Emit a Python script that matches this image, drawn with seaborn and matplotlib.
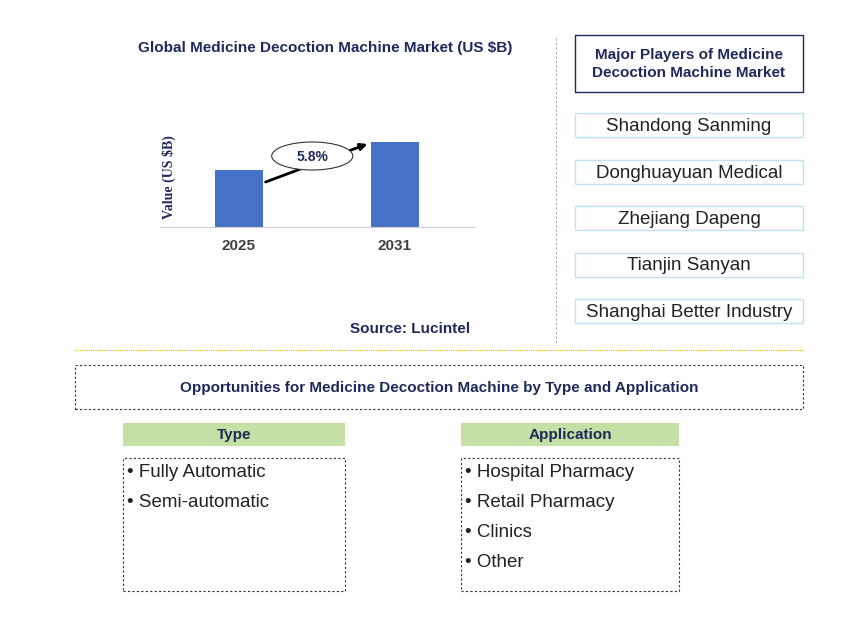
import matplotlib
matplotlib.use("Agg")
import matplotlib.pyplot as plt
import seaborn as sns
import pandas as pd
from matplotlib.patches import Rectangle, Ellipse

years = ["2025", "2031"]
values = [0.57, 0.85]
cagr = "5.8%"
players = ["Shandong Sanming", "Donghuayuan Medical", "Zhejiang Dapeng",
           "Tianjin Sanyan", "Shanghai Better Industry"]
types = ["Fully Automatic", "Semi-automatic"]
applications = ["Hospital Pharmacy", "Retail Pharmacy", "Clinics", "Other"]

plt.rcParams["font.family"] = "Liberation Sans"
W, H = 868, 632
navy = "#1f2a5c"
fig = plt.figure(figsize=(W / 100, H / 100), dpi=100)

def fx(x):
    return x / W

def fy(y):
    return 1 - y / H

def box(x0, y0, x1, y1, **kw):
    fig.add_artist(Rectangle((fx(x0), fy(y1)), fx(x1) - fx(x0), fy(y0) - fy(y1),
                             transform=fig.transFigure, **kw))

# bar chart
ax = fig.add_axes([fx(160), fy(227), fx(475) - fx(160), fy(100) - fy(227)])
df = pd.DataFrame({"year": years, "value": values})
sns.barplot(data=df, x="year", y="value", color="#4472c4", width=0.31,
            saturation=1, ax=ax)
ax.set_xlim(-0.506, 1.513)
ax.set_ylim(0, 1.27)
ax.set_yticks([])
ax.set_xlabel("")
ax.set_ylabel("Value (US $B)", fontsize=10, fontweight="bold", color=navy,
              family="Liberation Serif")
ax.yaxis.set_label_coords(0.05, 0.39)
for s in ["top", "right", "left"]:
    ax.spines[s].set_visible(False)
ax.spines["bottom"].set_color("#d0d0d0")
ax.tick_params(axis="x", length=0, pad=9)
for t in ax.get_xticklabels():
    t.set_fontweight("bold")
    t.set_color("#404040")
    t.set_fontsize(11)
ax.annotate("", xy=(0.84, 0.84), xytext=(0.154, 0.44),
            arrowprops=dict(arrowstyle="-|>", color="black", lw=2), zorder=4)
ax.add_patch(Ellipse((0.47, 0.71), 0.52, 0.28, facecolor="white",
                     edgecolor="#333333", lw=0.8, zorder=5))
ax.text(0.47, 0.70, cagr, ha="center", va="center", fontsize=10,
        fontweight="bold", color=navy, zorder=6)

fig.text(fx(325), fy(48), "Global Medicine Decoction Machine Market (US $B)",
         ha="center", va="center", fontsize=11, fontweight="bold", color=navy)
fig.text(fx(410), fy(329), "Source: Lucintel", ha="center", va="center",
         fontsize=11, fontweight="bold", color=navy)

# divider lines
fig.add_artist(plt.Line2D([fx(556), fx(556)], [fy(38), fy(345)],
                          transform=fig.transFigure, color="#aaaaaa", lw=0.8, ls=(0, (2, 2))))
fig.add_artist(plt.Line2D([fx(75), fx(803)], [fy(350), fy(350)],
                          transform=fig.transFigure, color="#e6b800", lw=0.8, ls=(0, (1, 1))))

# players
box(575, 35, 803, 92, facecolor="white", edgecolor=navy, lw=1)
fig.text(fx(689), fy(64), "Major Players of Medicine\nDecoction Machine Market",
         ha="center", va="center", fontsize=11, fontweight="bold", color=navy,
         linespacing=1.45)
for i, p in enumerate(players):
    yc = 125 + i * 46.5
    box(575, yc - 12, 803, yc + 12, facecolor="white", edgecolor="#bfe3ef", lw=1)
    fig.text(fx(689), fy(yc + 1.5), p, ha="center", va="center", fontsize=13.5, color="#222222")

# opportunities
box(75, 365, 803, 409, facecolor="white", edgecolor="#333333", lw=0.8, ls=(0, (2, 2)))
fig.text(fx(439), fy(388), "Opportunities for Medicine Decoction Machine by Type and Application",
         ha="center", va="center", fontsize=11, fontweight="bold", color=navy)

for x0, x1, title, items in [(123, 345, "Type", types), (461, 679, "Application", applications)]:
    box(x0, 423, x1, 446, facecolor="#c5e0a5", edgecolor="none")
    fig.text(fx((x0 + x1) / 2), fy(435.5), title, ha="center", va="center",
             fontsize=11, fontweight="bold", color=navy)
    box(x0, 458, x1, 591, facecolor="white", edgecolor="#333333", lw=0.8, ls=(0, (2, 2)))
    for j, it in enumerate(items):
        fig.text(fx(x0 + 4), fy(472.5 + j * 30), "\u2022 " + it, ha="left", va="center",
                 fontsize=13.5, color="#222222")

fig.savefig("out.png", dpi=100)
